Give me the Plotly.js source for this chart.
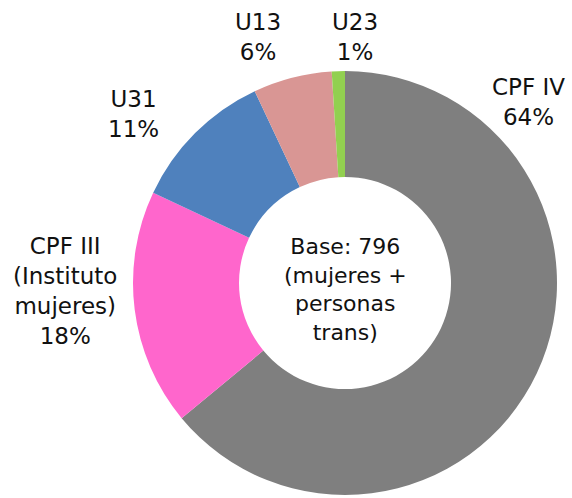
<!DOCTYPE html>
<html><head><meta charset="utf-8">
<script src="https://cdn.plot.ly/plotly-3.0.1.min.js"></script>
<style>html,body{margin:0;padding:0;background:#fff}</style>
</head><body>
<div id="chart" style="width:572px;height:498px"></div>
<script>
// Data
const labels = ["CPF IV", "CPF III (Instituto mujeres)", "U31", "U13", "U23"];
const labelText = ["CPF IV", "CPF III<br>(Instituto<br>mujeres)", "U31", "U13", "U23"];
const values = [64, 18, 11, 6, 1];
const centerText = "Base: 796<br>(mujeres +<br>personas<br>trans)";

// Styles / layout
const colors = ["#7F7F7F", "#FF66CC", "#4F81BD", "#D99694", "#92D050"];
const labelPos = [[528, 102], [65, 291], [133, 114], [258, 37], [355, 37]];
const W = 572, H = 498;
const FONT = "Century Gothic, DejaVu Sans, sans-serif";

const total = values.reduce((a, b) => a + b, 0);
const annotations = labels.map((l, i) => ({
  x: labelPos[i][0] / W, y: 1 - labelPos[i][1] / H, xref: "paper", yref: "paper",
  text: labelText[i] + "<br>" + Math.round(values[i] / total * 100) + "%",
  showarrow: false, xanchor: "center", yanchor: "middle",
  font: {family: FONT, size: 23, color: "#111"}
}));
annotations.push({
  x: 345 / W, y: 1 - 289 / H, xref: "paper", yref: "paper", text: centerText,
  showarrow: false, xanchor: "center", yanchor: "middle",
  font: {family: FONT, size: 22, color: "#111"}
});

Plotly.newPlot("chart", [{
  type: "pie", labels: labels, values: values, hole: 0.5,
  sort: false, direction: "clockwise", rotation: 0,
  marker: {colors: colors, line: {width: 0}},
  textinfo: "none", hoverinfo: "none",
  domain: {x: [133 / W, 557 / W], y: [3 / H, 427 / H]}
}], {
  width: W, height: H, margin: {l: 0, r: 0, t: 0, b: 0},
  showlegend: false, paper_bgcolor: "#fff",
  annotations: annotations
}, {displayModeBar: false, staticPlot: true});
</script>
</body></html>
